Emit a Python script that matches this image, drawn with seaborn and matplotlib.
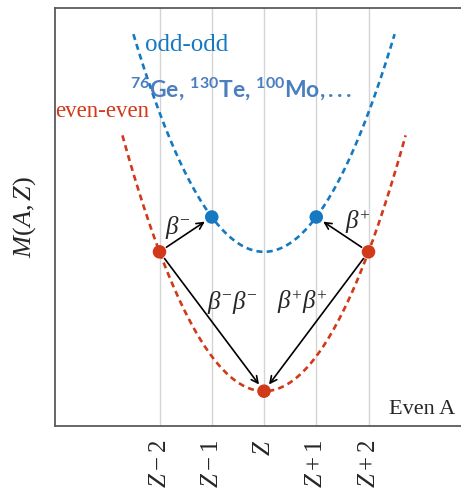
import numpy as np
import pandas as pd
import matplotlib
matplotlib.use("Agg")
import matplotlib.pyplot as plt
import seaborn as sns

# Nuclide positions relative to Z and their masses (arbitrary units)
ee_Z = [-2, 0, 2]
ee_M = [5.0, 1.0, 5.0]
oo_Z = [-1, 1]
oo_M = [6.0, 6.0]

# Mass parabolas: M = curvature * Z^2 + minimum
curvature = 1.0
ee_min = 1.0
oo_min = 5.0
ee_span = 2.71
oo_span = 2.50

tick_pos = [-2, -1, 0, 1, 2]
tick_labels = [r"$Z-2$", r"$Z-1$", r"$Z$", r"$Z+1$", r"$Z+2$"]

red = "#D0391A"
blue = "#1479C1"
iso_blue = "#4A7EBF"

sns.set_theme(style="white")
plt.rcParams["font.family"] = ["Liberation Serif", "DejaVu Serif"]
plt.rcParams["mathtext.fontset"] = "custom"
plt.rcParams["mathtext.rm"] = "Liberation Serif"
plt.rcParams["mathtext.it"] = "Liberation Serif:italic"
plt.rcParams["mathtext.bf"] = "Lato:bold"

fig = plt.figure(figsize=(4.61, 4.92), dpi=100)
ax = fig.add_axes([55 / 461, 1 - 426 / 492, 1 - 55 / 461, (426 - 8) / 492])

z_ee = np.linspace(-ee_span, ee_span, 200)
z_oo = np.linspace(-oo_span, oo_span, 200)
curves = pd.concat([
    pd.DataFrame({"Z": z_ee, "M": curvature * z_ee**2 + ee_min, "kind": "even-even"}),
    pd.DataFrame({"Z": z_oo, "M": curvature * z_oo**2 + oo_min, "kind": "odd-odd"}),
])
palette = {"even-even": red, "odd-odd": blue}

for x in tick_pos:
    ax.axvline(x, color="#d4d4d4", lw=1.0, zorder=0)

sns.lineplot(data=curves, x="Z", y="M", hue="kind", palette=palette,
             lw=1.9, legend=False, ax=ax, sort=False, estimator=None,
             units="kind")
for line in ax.get_lines()[len(tick_pos):]:
    line.set_dashes((2.3, 1.6))

pts = pd.concat([
    pd.DataFrame({"Z": ee_Z, "M": ee_M, "kind": "even-even"}),
    pd.DataFrame({"Z": oo_Z, "M": oo_M, "kind": "odd-odd"}),
])
sns.scatterplot(data=pts, x="Z", y="M", hue="kind", palette=palette,
                s=95, edgecolor="none", legend=False, ax=ax, zorder=5)

arrow_kw = dict(arrowstyle="->", color="black", lw=1.2,
                shrinkA=6, shrinkB=6, mutation_scale=12)
# single beta decays
ax.annotate("", xy=(oo_Z[0], oo_M[0]), xytext=(ee_Z[0], ee_M[0]), arrowprops=arrow_kw)
ax.annotate("", xy=(oo_Z[1], oo_M[1]), xytext=(ee_Z[2], ee_M[2]), arrowprops=arrow_kw)
# double beta decays
ax.annotate("", xy=(ee_Z[1], ee_M[1]), xytext=(ee_Z[0], ee_M[0]), arrowprops=arrow_kw)
ax.annotate("", xy=(ee_Z[1], ee_M[1]), xytext=(ee_Z[2], ee_M[2]), arrowprops=arrow_kw)

ax.text(-1.64, 5.70, r"$\beta^{-}$", fontsize=18, ha="center", va="center")
ax.text(1.80, 5.85, r"$\beta^{+}$", fontsize=18, ha="center", va="center")
ax.text(-0.60, 3.55, r"$\beta^{-}\beta^{-}$", fontsize=18, ha="center", va="center")
ax.text(0.73, 3.55, r"$\beta^{+}\beta^{+}$", fontsize=18, ha="center", va="center")

ax.text(-2.27, 10.95, "odd-odd", color=blue, fontsize=18, ha="left", va="center")
ax.text(-2.56, 9.68, r"$\mathbf{^{76}Ge,\,^{130}Te,\,^{100}Mo,...}$",
        color=iso_blue, fontsize=16.5, ha="left", va="center")
ax.text(-4.0, 9.04, "even-even", color=red, fontsize=16.5, ha="left", va="center")
ax.text(3.66, 0.2, "Even A", fontsize=16, ha="right", va="bottom")

ax.set_xlim(-4.0, 3.77)
ax.set_ylim(0, 12)
ax.set_xticks(tick_pos)
ax.set_xticklabels(tick_labels, rotation=90, fontsize=18)
ax.tick_params(axis="x", length=0, pad=10)
ax.set_yticks([])
ax.set_xlabel("")
ax.set_ylabel(r"$M(A,Z)$", fontsize=19, labelpad=12)

for side in ["left", "top", "bottom"]:
    ax.spines[side].set_color("#5a5a5a")
    ax.spines[side].set_linewidth(1.3)
ax.spines["right"].set_visible(False)

fig.savefig("out.png", dpi=100)
